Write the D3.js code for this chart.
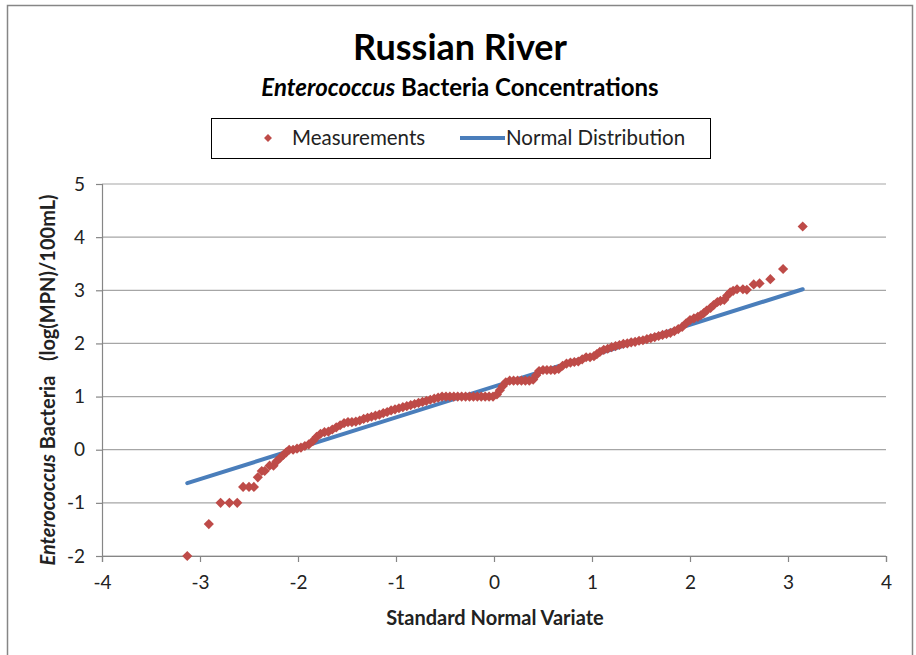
<!DOCTYPE html>
<html>
<head>
<meta charset="utf-8">
<script src="https://cdn.jsdelivr.net/npm/d3@7"></script>
<style>
  body { margin: 0; background: #fff; }
  svg text { font-family: Lato, "Open Sans", sans-serif; }
</style>
</head>
<body>
<div id="chart"></div>
<script>

var measX = [-3.13, -2.91, -2.79, -2.70, -2.62, -2.56, -2.50, -2.45, -2.41, -2.37, -2.34, -2.29, -2.25,
    -2.22, -2.18, -2.15, -2.12, -2.09, -2.05, -2.01, -1.97, -1.93, -1.89, -1.85, -1.81, -1.77, -1.73,
    -1.69, -1.65, -1.61, -1.57, -1.53, -1.49, -1.45, -1.41, -1.37, -1.33, -1.29, -1.25, -1.21, -1.17,
    -1.13, -1.09, -1.05, -1.01, -0.97, -0.93, -0.89, -0.85, -0.81, -0.77, -0.73, -0.69, -0.65, -0.61,
    -0.57, -0.53, -0.49, -0.45, -0.41, -0.37, -0.33, -0.29, -0.25, -0.21, -0.17, -0.13, -0.09, -0.05,
    -0.01, 0.03, 0.06, 0.09, 0.12, 0.16, 0.20, 0.24, 0.28, 0.32, 0.36, 0.40, 0.43, 0.46, 0.50, 0.54,
    0.58, 0.62, 0.66, 0.70, 0.74, 0.78, 0.82, 0.86, 0.90, 0.94, 0.98, 1.02, 1.05, 1.08, 1.12, 1.16,
    1.20, 1.24, 1.28, 1.32, 1.36, 1.40, 1.44, 1.48, 1.52, 1.56, 1.60, 1.64, 1.68, 1.72, 1.76, 1.80,
    1.84, 1.88, 1.92, 1.96, 2.00, 2.04, 2.08, 2.11, 2.14, 2.17, 2.21, 2.24, 2.28, 2.31, 2.35, 2.38,
    2.41, 2.44, 2.48, 2.54, 2.58, 2.65, 2.71, 2.82, 2.95, 3.15];
var measY = [-2.00, -1.40, -1.00, -1.00, -1.00, -0.70, -0.70, -0.70, -0.52, -0.40, -0.40, -0.30, -0.30,
    -0.22, -0.15, -0.10, -0.05, 0.00, 0.00, 0.02, 0.04, 0.07, 0.10, 0.16, 0.24, 0.30, 0.33,
    0.34, 0.38, 0.42, 0.46, 0.50, 0.52, 0.52, 0.53, 0.55, 0.58, 0.60, 0.62, 0.64, 0.66,
    0.69, 0.71, 0.74, 0.76, 0.78, 0.80, 0.82, 0.84, 0.86, 0.88, 0.90, 0.92, 0.94, 0.96,
    0.98, 1.00, 1.00, 1.00, 1.00, 1.00, 1.00, 1.00, 1.00, 1.00, 1.00, 1.00, 1.00, 1.00,
    1.00, 1.04, 1.12, 1.20, 1.27, 1.30, 1.30, 1.30, 1.30, 1.30, 1.30, 1.32, 1.40, 1.48, 1.50, 1.50,
    1.50, 1.50, 1.52, 1.58, 1.62, 1.64, 1.65, 1.66, 1.70, 1.74, 1.74, 1.76, 1.80, 1.84, 1.88, 1.90,
    1.93, 1.95, 1.97, 1.99, 2.00, 2.02, 2.03, 2.05, 2.06, 2.08, 2.10, 2.12, 2.14, 2.16, 2.18, 2.20,
    2.23, 2.27, 2.31, 2.38, 2.44, 2.47, 2.50, 2.53, 2.57, 2.62, 2.67, 2.72, 2.78, 2.80, 2.82, 2.90,
    2.96, 2.99, 3.02, 3.02, 3.01, 3.11, 3.13, 3.21, 3.40, 4.20];

// fitted normal distribution line (end points)
var normX = [-3.13, 3.15];
var normY = [-0.63, 3.02];

var xTickVals = [-4, -3, -2, -1, 0, 1, 2, 3, 4];
var yTickVals = [-2, -1, 0, 1, 2, 3, 4, 5];

var width = 916;
var height = 655;
var plotLeft = 102, plotRight = 886, plotTop = 184, plotBottom = 556;

var svg = d3.select('#chart')
    .append('svg')
        .attr('width', width)
        .attr('height', height);

// chart frame
svg.append('rect')
    .attr('x', 7.5).attr('y', 5.5)
    .attr('width', 905).attr('height', 670)
    .attr('fill', '#fff')
    .attr('stroke', '#868686')
    .attr('stroke-width', 1.5);

var x = d3.scaleLinear().domain([-4, 4]).range([plotLeft, plotRight]);
var y = d3.scaleLinear().domain([-2, 5]).range([plotBottom, plotTop]);

// gridlines
svg.append('g')
    .selectAll('line')
    .data(yTickVals)
    .enter().append('line')
        .attr('x1', plotLeft).attr('x2', plotRight)
        .attr('y1', function(d) { return y(d); })
        .attr('y2', function(d) { return y(d); })
        .attr('stroke', '#a6a6a6')
        .attr('stroke-width', 1.2);

var minus = function(d) { return d < 0 ? '-' + Math.abs(d) : String(d); };

var xAxis = svg.append('g')
    .attr('transform', 'translate(0,' + plotBottom + ')')
    .call(d3.axisBottom(x).tickValues(xTickVals).tickSize(6).tickPadding(14).tickFormat(minus));
var yAxis = svg.append('g')
    .attr('transform', 'translate(' + plotLeft + ',0)')
    .call(d3.axisLeft(y).tickValues(yTickVals).tickSize(6).tickPadding(11).tickFormat(minus));

[xAxis, yAxis].forEach(function(ax) {
    ax.select('.domain').attr('stroke', '#868686').attr('stroke-width', 1.2);
    ax.selectAll('.tick line').attr('stroke', '#868686').attr('stroke-width', 1.2);
    ax.selectAll('.tick text')
        .attr('font-size', 19)
        .attr('fill', '#222')
        .style('font-family', 'Lato, sans-serif');
});

// normal distribution line
var normData = normX.map(function(d, i) { return [d, normY[i]]; });
svg.append('path')
    .datum(normData)
    .attr('fill', 'none')
    .attr('stroke', '#4a7ebb')
    .attr('stroke-width', 4)
    .attr('stroke-linecap', 'round')
    .attr('d', d3.line()
        .x(function(d) { return x(d[0]); })
        .y(function(d) { return y(d[1]); }));

// measurement diamonds (square diamond like Excel's marker)
var diamondType = d3.symbolDiamond2 || d3.symbolDiamond;
var diamond = d3.symbol().type(diamondType).size(66);
var measData = measX.map(function(d, i) { return [d, measY[i]]; });
svg.append('g')
    .selectAll('path')
    .data(measData)
    .enter().append('path')
        .attr('d', diamond)
        .attr('transform', function(d) { return 'translate(' + x(d[0]) + ',' + y(d[1]) + ')'; })
        .attr('fill', '#be4b48');

// titles
svg.append('text')
    .attr('x', 460).attr('y', 60)
    .attr('text-anchor', 'middle')
    .attr('font-size', 36)
    .attr('font-weight', 'bold')
    .attr('fill', '#000')
    .text('Russian River');

var sub = svg.append('text')
    .attr('x', 460).attr('y', 96)
    .attr('text-anchor', 'middle')
    .attr('font-size', 24)
    .attr('font-weight', 'bold')
    .attr('fill', '#000');
sub.append('tspan').attr('font-style', 'italic').text('Enterococcus');
sub.append('tspan').text(' Bacteria Concentrations');

// legend
svg.append('rect')
    .attr('x', 211.5).attr('y', 118.5)
    .attr('width', 499).attr('height', 40)
    .attr('fill', '#fff')
    .attr('stroke', '#000')
    .attr('stroke-width', 1);
svg.append('path')
    .attr('d', d3.symbol().type(diamondType).size(40))
    .attr('transform', 'translate(268,138)')
    .attr('fill', '#be4b48');
svg.append('text')
    .attr('x', 292).attr('y', 145)
    .attr('font-size', 20.5)
    .attr('fill', '#222')
    .text('Measurements');
svg.append('line')
    .attr('x1', 460).attr('x2', 505)
    .attr('y1', 138).attr('y2', 138)
    .attr('stroke', '#4a7ebb')
    .attr('stroke-width', 4);
svg.append('text')
    .attr('x', 506).attr('y', 145)
    .attr('font-size', 20.5)
    .attr('fill', '#222')
    .text('Normal Distribution');

// axis titles
svg.append('text')
    .attr('x', 495).attr('y', 625)
    .attr('text-anchor', 'middle')
    .attr('font-size', 20)
    .attr('font-weight', 'bold')
    .attr('fill', '#222')
    .text('Standard Normal Variate');

var yt = svg.append('text')
    .attr('transform', 'translate(55,380) rotate(-90)')
    .attr('text-anchor', 'middle')
    .attr('font-size', 20)
    .attr('font-weight', 'bold')
    .attr('fill', '#222')
    .attr('xml:space', 'preserve')
    .style('white-space', 'pre');
yt.append('tspan').attr('font-style', 'italic').text('Enterococcus');
yt.append('tspan').text(' Bacteria   (log(MPN)/100mL)');

</script>
</body>
</html>
